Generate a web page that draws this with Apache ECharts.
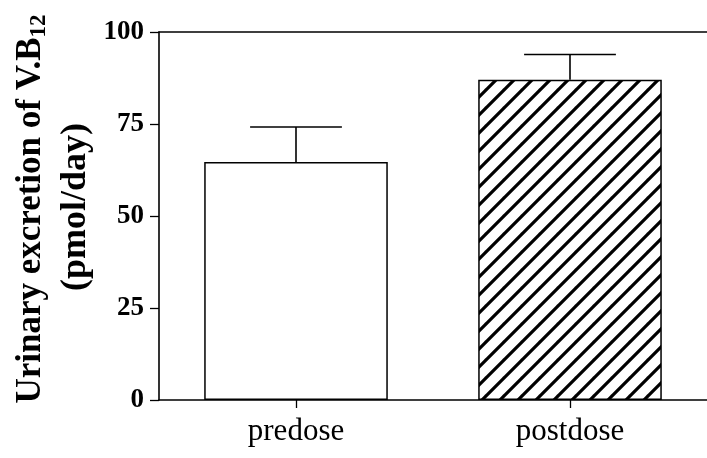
<!DOCTYPE html>
<html>
<head>
<meta charset="utf-8">
<script src="https://cdn.jsdelivr.net/npm/echarts@6/dist/echarts.min.js"></script>
<style>
  html, body { margin: 0; padding: 0; background: #fff; }
  #chart { width: 707px; height: 458px; }
</style>
</head>
<body>
<div id="chart"></div>
<script>
// Urinary vitamin B12 excretion before and after dosing
const categories = ['predose', 'postdose'];
const meanValues = [64.7, 87.0];
const sdValues = [9.5, 6.9];
const yTicks = [0, 25, 50, 75, 100];

const SERIF = '"Liberation Serif", "Times New Roman", serif';

// Diagonal hatch tile for the postdose bar
function hatchPattern() {
  const s = 18;
  const c = document.createElement('canvas');
  c.width = s; c.height = s;
  const g = c.getContext('2d');
  g.fillStyle = '#fff';
  g.fillRect(0, 0, s, s);
  g.strokeStyle = '#000';
  g.lineWidth = 3.2;
  g.lineCap = 'square';
  [-s, 0, s].forEach(function (o) {
    g.beginPath();
    g.moveTo(o, s);
    g.lineTo(o + s, 0);
    g.stroke();
  });
  return c;
}

const chart = echarts.init(document.getElementById('chart'), null, { renderer: 'canvas' });
const BAR_RATIO = 0.67;

const option = {
  animation: false,
  backgroundColor: '#fff',
  grid: { left: 159, right: 0, top: 32, bottom: 58, containLabel: false },
  xAxis: [
    {
      type: 'category',
      data: categories,
      position: 'bottom',
      axisLine: { show: true, lineStyle: { color: '#000', width: 1.6 } },
      axisTick: { show: true, alignWithLabel: true, length: 8, inside: false, lineStyle: { color: '#000', width: 1.3 } },
      axisLabel: { color: '#000', fontFamily: SERIF, fontSize: 31, margin: 16 },
      splitLine: { show: false }
    },
    {
      type: 'category',
      data: categories,
      position: 'top',
      axisLine: { show: true, lineStyle: { color: '#000', width: 1.6 } },
      axisTick: { show: false },
      axisLabel: { show: false },
      splitLine: { show: false }
    }
  ],
  yAxis: {
    type: 'value',
    min: yTicks[0],
    max: yTicks[yTicks.length - 1],
    interval: yTicks[1] - yTicks[0],
    axisLine: { show: true, lineStyle: { color: '#000', width: 1.6 } },
    axisTick: { show: true, length: 9, lineStyle: { color: '#000', width: 1.3 } },
    axisLabel: { color: '#000', fontFamily: SERIF, fontWeight: 'bold', fontSize: 27, margin: 15 },
    splitLine: { show: false }
  },
  series: [
    {
      type: 'bar',
      barWidth: (BAR_RATIO * 100) + '%',
      data: meanValues.map(function (v, i) {
        return {
          value: v,
          itemStyle: i === 0
            ? { color: '#fff', borderColor: '#000', borderWidth: 1.5 }
            : { color: { image: hatchPattern(), repeat: 'repeat' }, borderColor: '#000', borderWidth: 1.5 }
        };
      }),
      z: 2
    },
    {
      type: 'custom',
      z: 3,
      data: meanValues.map(function (v, i) { return [i, v, v + sdValues[i]]; }),
      renderItem: function (params, api) {
        const i = api.value(0);
        const base = api.coord([i, api.value(1)]);
        const top = api.coord([i, api.value(2)]);
        const band = api.size([1, 0])[0];
        const half = band * BAR_RATIO / 4;
        const style = { stroke: '#000', lineWidth: 1.6, fill: null };
        return {
          type: 'group',
          children: [
            { type: 'line', shape: { x1: base[0], y1: base[1], x2: top[0], y2: top[1] }, style: style },
            { type: 'line', shape: { x1: top[0] - half, y1: top[1], x2: top[0] + half, y2: top[1] }, style: style }
          ]
        };
      }
    }
  ],
  graphic: [
    {
      type: 'text',
      x: 31, y: 209,
      rotation: Math.PI / 2,
      style: {
        text: '{m|Urinary excretion of V.B}{s|12}',
        align: 'center', verticalAlign: 'middle',
        fill: '#000',
        rich: {
          m: { fontFamily: SERIF, fontWeight: 'bold', fontSize: 35, fill: '#000' },
          s: { fontFamily: SERIF, fontWeight: 'bold', fontSize: 23, fill: '#000', padding: [16, 0, 0, 0] }
        }
      }
    },
    {
      type: 'text',
      x: 76, y: 207,
      rotation: Math.PI / 2,
      style: {
        text: '(pmol/day)',
        align: 'center', verticalAlign: 'middle',
        fill: '#000',
        fontFamily: SERIF, fontWeight: 'bold', fontSize: 36
      }
    }
  ]
};

chart.setOption(option);
</script>
</body>
</html>
